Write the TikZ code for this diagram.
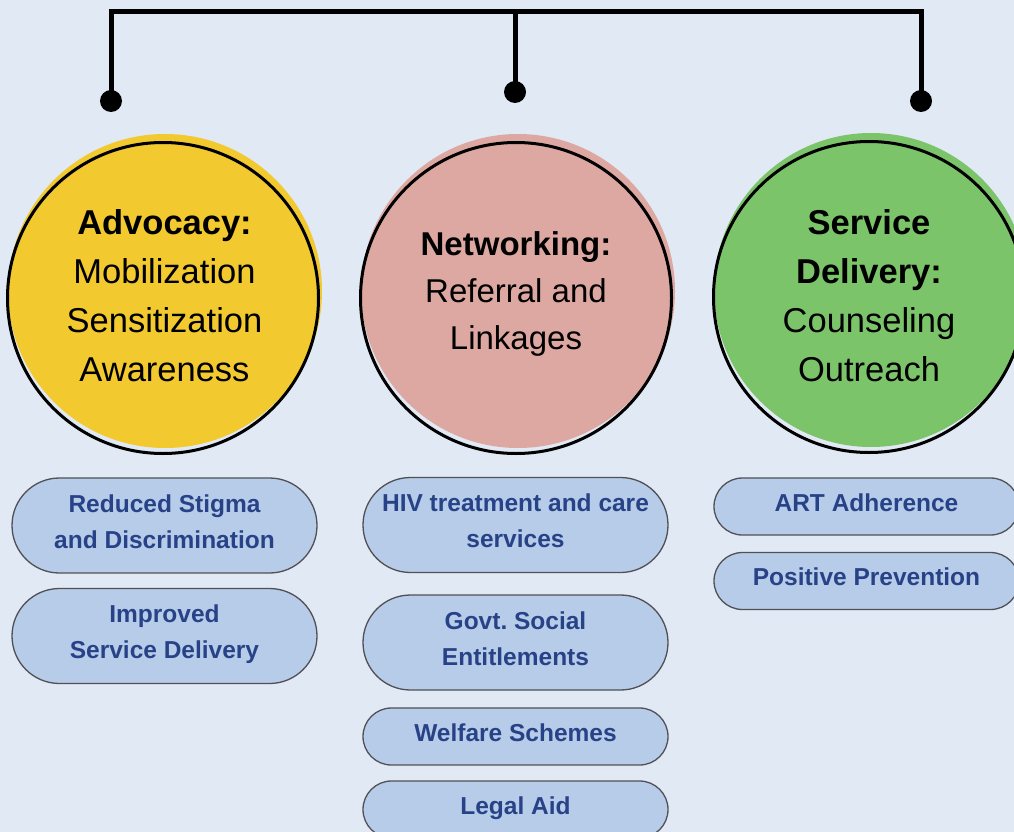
\documentclass[tikz,border=0pt]{standalone}
\usepackage{fontspec}
\setmainfont{Liberation Sans}
\usetikzlibrary{shapes.misc}
\definecolor{bg}{RGB}{225,233,245}
\definecolor{advfill}{RGB}{242,201,46}
\definecolor{netfill}{RGB}{222,168,162}
\definecolor{srvfill}{RGB}{124,196,106}
\definecolor{pillfill}{RGB}{183,204,233}
\definecolor{pilltext}{RGB}{40,66,135}
\definecolor{pillline}{RGB}{80,80,85}
\tikzset{
  outline/.style={circle, draw=black, line width=3pt, minimum size=311pt, inner sep=0pt},
  circtext/.style={align=center, text=black, inner sep=0pt},
  pill/.style={rounded rectangle, draw=pillline, line width=1.3pt, fill=pillfill,
    minimum width=305pt, text=pilltext, align=center, inner sep=0pt,
    font=\bfseries\fontsize{24.5}{36}\selectfont,
    execute at end node={\rule[-8pt]{0pt}{8pt}}},
  tall/.style={minimum height=95pt},
  short/.style={minimum height=57pt},
  dot/.style={circle, fill=black, minimum size=22pt, inner sep=0pt},
  bracket/.style={line width=5pt, black}
}
\begin{document}
\begin{tikzpicture}[x=1pt,y=-1pt]
\useasboundingbox (0,0) rectangle (1014,832);
\fill[bg] (0,0) rectangle (1014,832);
\clip (0,0) rectangle (1014,832);

% bracket
\node[dot] (d1) at (111,101) {};
\node[dot] (d2) at (515,92) {};
\node[dot] (d3) at (921,101) {};
\coordinate (top) at (515,11.5);
\draw[bracket] (d1.center) |- (top) -| (d3.center);
\draw[bracket] (top) -- (d2.center);

% circles
\fill[advfill] (165,291) circle[radius=157pt];
\node[outline] (adv) at (163,298) {};
\node[circtext, font=\fontsize{34.5}{49}\selectfont] (advt) at (164.5,295.5)
  {\textbf{Advocacy:}\\Mobilization\\Sensitization\\Awareness};

\fill[netfill] (518,291) circle[radius=157pt];
\node[outline] (net) at (516,298) {};
\node[circtext, font=\fontsize{33}{47}\selectfont] (nett) at (516,294)
  {\textbf{Networking:}\\Referral and\\Linkages};

\fill[srvfill] (871,290) circle[radius=157pt];
\node[outline] (srv) at (869,297) {};
\node[circtext, font=\fontsize{34.5}{49}\selectfont] (srvt) at (869,295.5)
  {\textbf{Service}\\\textbf{Delivery:}\\Counseling\\Outreach};

% pills
\node[pill, tall] (l1) at (164.5,525.5) {Reduced Stigma\\and Discrimination};
\node[pill, tall] (l2) at (164.5,636) {Improved\\Service Delivery};
\node[pill, tall] (m1) at (515.5,525) {HIV treatment and care\\services};
\node[pill, tall] (m2) at (515.5,642.5) {Govt.\ Social\\Entitlements};
\node[pill, short] (m3) at (515.5,736.5) {Welfare Schemes};
\node[pill, short] (m4) at (515.5,809.5) {Legal Aid};
\node[pill, short] (r1) at (866.5,506.5) {ART Adherence};
\node[pill, short] (r2) at (866.5,581) {Positive Prevention};
\end{tikzpicture}
\end{document}
